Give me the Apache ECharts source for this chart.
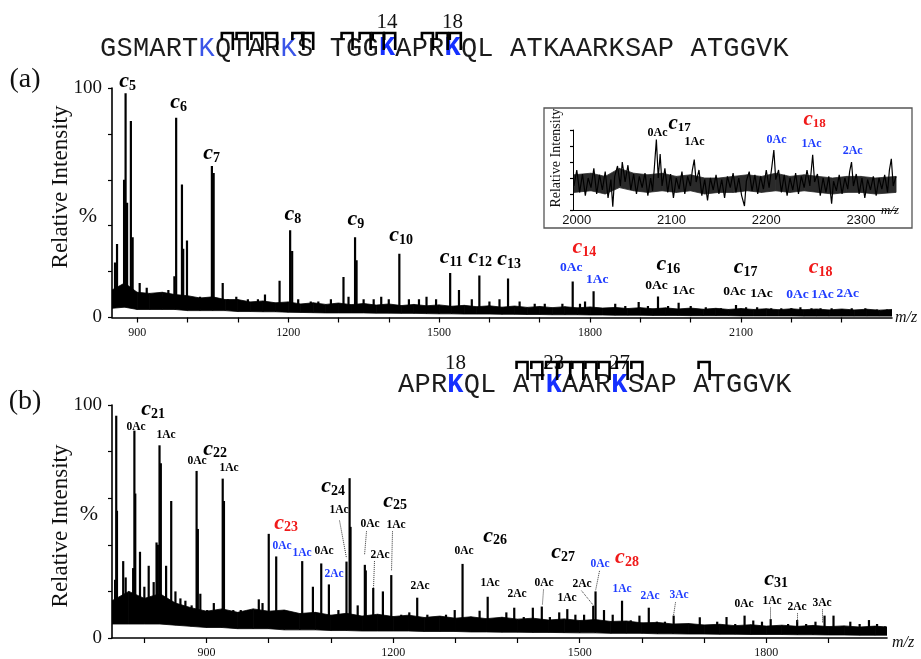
<!DOCTYPE html>
<html><head><meta charset="utf-8">
<script src="https://cdn.jsdelivr.net/npm/echarts@6/dist/echarts.min.js"></script>
<style>html,body{margin:0;padding:0;background:#fff}#c{width:921px;height:659px}</style>
</head><body><div id="c"></div>
<script>
// ---------- DATA ----------
const ticksA = [900,1000,1100,1200,1300,1400,1500,1600,1700,1800,1900,2000,2100,2200,2300];
const labelsXA = [900,1200,1500,1800,2100];
const ticksB = [800,900,1000,1100,1200,1300,1400,1500,1600,1700,1800,1900];
const labelsXB = [900,1200,1500,1800];
const labelsXInset = [2000,2100,2200,2300];
const labelsY = [0,100];

// noise band [m/z, low, high] (%)
const bandA = [[850,4,12],[875,4.5,15],[900,3.5,11],[925,3.5,10.5],[950,3.5,11],[975,3.5,10],[1000,3,9.5],[1025,3,8.5],[1050,3,9],[1075,3,7.8],[1100,2.6,7.8],[1125,2.6,6.8],[1150,2.5,7.2],[1175,2.5,6.4],[1200,2.3,6.8],[1225,2.2,5.9],[1250,2.1,6.4],[1275,2,5.7],[1300,2,6.3],[1325,2,5.6],[1350,2,6.1],[1375,1.9,5.4],[1400,1.9,5.9],[1425,1.8,5.2],[1450,1.8,5.7],[1475,1.7,5.1],[1500,1.6,5.5],[1525,1.6,4.9],[1550,1.5,5.3],[1575,1.5,4.7],[1600,1.5,5.1],[1625,1.4,4.5],[1650,1.4,5],[1675,1.3,4.4],[1700,1.3,4.8],[1725,1.2,4.3],[1750,1.2,4.7],[1775,1.2,4.2],[1800,1.1,4.6],[1825,1.1,4.1],[1850,1,4.4],[1875,1,3.9],[1900,1,4.3],[1925,0.9,3.8],[1950,0.9,4.2],[1975,0.9,3.7],[2000,0.8,4.1],[2025,0.8,3.6],[2050,0.8,4],[2075,0.8,3.5],[2100,0.7,3.9],[2125,0.7,3.5],[2150,0.7,3.8],[2175,0.7,3.4],[2200,0.7,3.8],[2225,0.6,3.4],[2250,0.6,3.7],[2275,0.6,3.3],[2300,0.6,3.7],[2325,0.6,3.3],[2350,0.6,3.6],[2375,0.6,3.2],[2400,0.6,3.5]];

const bandB = [[748,6,16],[775,6,20],[800,6,17],[825,6,19],[850,5.5,15],[875,5,13],[900,4.5,11.5],[925,4.5,12.5],[950,4,11],[975,4,12.5],[1000,4,11.5],[1025,3.5,12],[1050,3.5,10.5],[1075,3.5,11],[1100,3.2,9.8],[1125,3.2,10.6],[1150,3,9.4],[1175,3,10.2],[1200,3,9.2],[1225,3,9.8],[1250,2.8,8.8],[1275,2.8,9.4],[1300,2.8,8.5],[1325,2.6,9.1],[1350,2.6,8.3],[1375,2.5,8.9],[1400,2.5,8.1],[1425,2.4,8.5],[1450,2.4,7.7],[1475,2.3,8.2],[1500,2.2,7.5],[1525,2.2,7.9],[1550,2,7.1],[1575,2,7.3],[1600,2,6.5],[1625,1.8,6.7],[1650,1.8,6],[1675,1.7,6.2],[1700,1.7,5.6],[1725,1.6,5.9],[1750,1.6,5.3],[1775,1.5,5.7],[1800,1.5,5.1],[1825,1.5,5.5],[1850,1.4,5],[1875,1.4,5.4],[1900,1.3,4.9],[1925,1.3,5.2],[1950,1.2,4.7],[1975,1.2,5.1],[1994,1.2,4.7]];

// peaks [m/z, relative intensity %]
const peaksA = [[856,24],[860,32],[874,60],[877,97.7],[880,50],[887.5,85.6],[891,35],[905,15],[919,13],[935,10],[950,9],[962,12],[974,18],[977.5,87],[989,58],[991.5,30],[999,33.6],[1013,8],[1025,9],[1048.5,66],[1052,63],[1070,15],[1080,8],[1097,9],[1120,8],[1140,8],[1154,10],[1183,16],[1204,38],[1208,29],[1220,8],[1245,7],[1260,7],[1285,8],[1310,17.6],[1320,9],[1333,35],[1336,25],[1350,8],[1370,8],[1385,9],[1400,8],[1421,27.8],[1440,8],[1460,8],[1475,9],[1494,8],[1522,19.4],[1539.5,12],[1565,8],[1580,18.3],[1600,7],[1620,8],[1637,17],[1660,7],[1690,6],[1710,6],[1745,6],[1765.5,15.7],[1780,6],[1790,7],[1807,11.4],[1850,6],[1870,5],[1896.6,6.7],[1915,5],[1935,9.2],[1955,5],[1976,6.4],[2000,5],[2030,4.5],[2060,4],[2090,5.5],[2110,4.5],[2132,4.5],[2160,4],[2180,4],[2200,4],[2218,4.5],[2240,4],[2258,4],[2280,4],[2301,3.5],[2320,4],[2347,4],[2370,3.5],[2390,3.5]];

const peaksB = [[753,25],[754.8,95.4],[756,54.6],[766,33],[770,26],[782,30],[784,89],[785.4,62],[793,37],[800,22],[807,31],[815,24],[819.6,41],[821.7,40],[824.4,82.7],[826.5,75],[835,31],[843.2,58.8],[850,20],[858,17],[866,16],[876,14],[884,71.7],[886,46.8],[890,19],[901,12],[911.7,15],[926,68.4],[928,58.8],[943,12],[955,12],[967,12],[984,16.6],[990,15],[1000,44.7],[1012,35],[1025,12],[1040,8],[1053.8,33],[1071,22],[1084.4,32],[1096.7,23],[1112,12],[1125,32.8],[1130,68.6],[1131.5,47.7],[1143,14],[1154.5,31.4],[1156,29],[1168,21.5],[1183.5,20],[1197,27],[1213,10],[1226,11],[1238.7,17.3],[1255,10],[1270,9],[1285,10],[1299,12],[1311.6,31.8],[1325,9],[1339,11.7],[1352,17.7],[1367,8],[1382,11],[1394.7,13],[1410,9],[1424.6,13],[1439,13.5],[1452,9],[1467,11],[1480,12.4],[1493,10],[1507,10],[1521.7,13.8],[1525.4,20],[1539,12],[1553,10],[1568,16],[1582,7.6],[1596,9.6],[1611,13],[1624,7],[1637,7],[1651,9.6],[1664,6],[1678,6],[1693,8.9],[1707,5],[1721,7],[1736,9],[1750,6],[1765,9.6],[1779,7.5],[1793,7],[1807,8.1],[1822,5],[1835,6],[1849.6,7.7],[1864,6],[1879,7],[1893.6,9.6],[1908,9.6],[1922,5],[1935,7],[1950,6],[1965,7.7],[1978,6],[1991,5]];

// inset: noise band [m/z, low, high] and trace [m/z, relative intensity %]
const insetBand = [[1997,22,44],[2015,24,46],[2030,20,42],[2045,28,52],[2060,24,46],[2075,22,44],[2090,24,46],[2105,22,42],[2120,24,44],[2135,20,40],[2150,22,40],[2165,22,42],[2180,24,44],[2195,22,42],[2210,24,46],[2225,22,42],[2240,24,44],[2255,22,42],[2270,20,40],[2285,22,42],[2300,22,42],[2315,20,40],[2337,22,42]];
const insetTrace = [[1997,30],[2000,50],[2003,22],[2006,45],[2009,18],[2012,40],[2015,28],[2018,52],[2021,20],[2024,44],[2027,25],[2030,48],[2033,15],[2036,38],[2038,4],[2040,42],[2043,55],[2046,30],[2048,60],[2051,35],[2054,56],[2057,25],[2060,45],[2063,20],[2066,42],[2069,28],[2072,46],[2075,18],[2078,40],[2080,24],[2082,55],[2084,88],[2086,40],[2088,70],[2090,30],[2093,52],[2096,22],[2099,45],[2102,15],[2105,40],[2108,26],[2111,48],[2114,20],[2117,42],[2120,30],[2122,50],[2124,63],[2126,35],[2129,50],[2132,18],[2135,38],[2138,12],[2141,40],[2144,25],[2147,44],[2150,20],[2153,38],[2156,15],[2159,42],[2162,28],[2165,46],[2168,22],[2171,40],[2174,18],[2177,5],[2179,36],[2182,48],[2185,24],[2188,44],[2191,20],[2194,42],[2197,26],[2200,50],[2203,28],[2206,55],[2208,75],[2210,38],[2213,50],[2216,22],[2219,44],[2222,18],[2225,40],[2228,25],[2231,46],[2234,20],[2237,42],[2240,28],[2243,50],[2246,30],[2249,69],[2251,35],[2254,45],[2257,18],[2260,40],[2263,22],[2266,42],[2269,8],[2271,36],[2274,24],[2277,44],[2280,20],[2283,40],[2286,26],[2288,48],[2290,60],[2292,30],[2295,45],[2298,20],[2301,40],[2304,15],[2307,38],[2310,25],[2313,42],[2316,18],[2319,40],[2322,26],[2325,44],[2328,22],[2330,50],[2332,64],[2334,30],[2337,42]];

// annotations [text, m/z, level, kind]  kind: c=black ion, r=red ion, k=black Ac, b=blue Ac
const annA = [['c5',882,102.6,'c'],['c6',983.6,93.4,'c'],['c7',1049,71.2,'c'],['c8',1210.4,44.7,'c'],['c9',1335.8,42.5,'c'],['c10',1425.4,35.5,'c'],['c11',1524.9,25.9,'c'],['c12',1582.6,25.9,'c'],['c13',1640.3,25.1,'c'],['c14',1789.6,30.3,'r'],['0Ac',1763.7,21.6,'b'],['1Ac',1815.4,16.3,'b'],['c16',1956.7,22.9,'c'],['0Ac',1932.8,13.7,'k'],['1Ac',1986.5,11.5,'k'],['c17',2109.9,21.6,'c'],['0Ac',2088,11.1,'k'],['1Ac',2141.7,10.2,'k'],['c18',2259.2,21.6,'r'],['0Ac',2213.4,9.8,'b'],['1Ac',2263.1,9.8,'b'],['2Ac',2312.9,10.2,'b']];
const annInset = [['c17',2109,107.5,'c'],['0Ac',2085.8,96,'k'],['1Ac',2124.8,84,'k'],['c18',2251.5,112.5,'r'],['0Ac',2211.4,87.5,'b'],['1Ac',2248.4,82.5,'b'],['2Ac',2291.7,73.8,'b']];
const annB = [['c21',814.8,97.9,'c'],['0Ac',787.5,90.3,'k'],['1Ac',835.7,86.9,'k'],['c22',914.5,80.9,'c'],['0Ac',885.5,75.8,'k'],['1Ac',937,72.9,'k'],['c23',1028.6,49.2,'r'],['0Ac',1022.2,39.4,'b'],['1Ac',1054.3,36.4,'b'],['0Ac',1089.7,36.9,'k'],['2Ac',1105.8,27.1,'b'],['c24',1104.2,64.8,'c'],['1Ac',1113.8,54.7,'k'],['c25',1203.9,58.5,'c'],['0Ac',1163.7,48.7,'k'],['1Ac',1205.5,48.3,'k'],['2Ac',1179.7,35.2,'k'],['2Ac',1244,22,'k'],['c26',1364.6,43.6,'c'],['0Ac',1314.8,36.9,'k'],['1Ac',1356.6,23.3,'k'],['2Ac',1400,18.6,'k'],['c27',1474,36.4,'c'],['0Ac',1443.4,23.3,'k'],['1Ac',1480.4,16.9,'k'],['2Ac',1504.5,22.9,'k'],['c28',1576.8,34.3,'r'],['0Ac',1533.4,31.4,'b'],['1Ac',1568.8,20.8,'b'],['2Ac',1613.8,17.8,'b'],['3Ac',1660.5,18.2,'b'],['c31',1816.4,25,'c'],['0Ac',1765,14.4,'k'],['1Ac',1810,15.7,'k'],['2Ac',1850.2,13.1,'k'],['3Ac',1890.4,14.8,'k']];
// dotted leader lines [m/z1, level1, m/z2, level2]
const leadersB = [[1113.8,50.4,1125,34.3],[1157.2,45.8,1154,35.6],[1199,45.8,1197.4,28.8],[1170,33,1168.5,21.6],[1441.8,20.8,1440,14.4],[1502.9,20.3,1522,14],[1531.8,28.8,1525.4,20.3],[1654,15.3,1650.8,9.7],[1806.8,13.1,1806.8,8],[1850.2,10.6,1850.2,6.8],[1890.4,12.3,1890.4,6.4]];

// sequences
const seqA = 'GSMARTKQTARKS TGGKAPRKQL ATKAARKSAP ATGGVK';
const seqAColors = {6:'k',11:'k',17:'kb',21:'kb'};
const seqANums = [[17,'14'],[21,'18']];
const cutsA = [8.1,9.0,9.9,10.8,12.4,13.0,15.4,16.5,17.3,18.0,20.3,21.2,22.0];
const seqB = 'APRKQL ATKAARKSAP ATGGVK';
const seqBColors = {3:'kb',9:'kb',13:'kb'};
const seqBNums = [[3,'18'],[9,'23'],[13,'27']];
const cutsB = [7.9,8.8,9.7,10.5,11.3,12.1,12.9,14.0,14.9,19.0];

// ---------- CHART ----------
const SERIF = '"Liberation Serif","Times New Roman",serif';
const RED = '#f01a1a', BLUE = '#1f3cff';
const chart = echarts.init(document.getElementById('c'), null, {renderer:'canvas'});
const plain = v => String(v);

function xAxisDef(gi, min, max, ticks, labels, sans){
  return {gridIndex:gi, type:'value', min, max, z:20, splitLine:{show:false},
    axisLine:{show:true, onZero:false, lineStyle:{color:'#000', width: gi===1?1:1.6}},
    axisTick:{show: !!ticks, customValues: ticks || [], length:5, lineStyle:{color:'#000', width:1.2}},
    axisLabel:{customValues: labels, formatter: plain, color:'#111', fontSize: sans?13:12, fontFamily: sans?'"Liberation Sans",Arial,sans-serif':SERIF, margin: sans?4:9}};
}
function yAxisDef(gi, showLabels){
  return {gridIndex:gi, type:'value', min:0, max:100, interval:20, z:20, splitLine:{show:false},
    axisLine:{show:true, lineStyle:{color:'#000', width: gi===1?1:1.6}},
    axisTick:{show:true, length: gi===1?3:4, lineStyle:{color:'#000', width:1.2}},
    axisLabel:{show:showLabels, customValues: labelsY, formatter: plain, color:'#111', fontSize:19, fontFamily:SERIF, margin:10}};
}
// noise band: each item draws the quad between this sample and the next one
function bandSeries(band, gi, color){
  return {type:'custom', xAxisIndex:gi, yAxisIndex:gi, silent:true, z:2, clip:true,
    data: band,
    renderItem: (params, api) => {
      const i = params.dataIndex;
      if (i >= band.length - 1) return null;
      const a = band[i], b = band[i+1];
      const pts = [api.coord([a[0], a[1]]), api.coord([a[0], a[2]]), api.coord([b[0], b[2]]), api.coord([b[0], b[1]])];
      return {type:'polygon', shape:{points:pts}, style:{fill:color, stroke:color, lineWidth:0.8}};
    }};
}
// lower edge of the noise band at a given m/z (used only as the foot of each stick)
function bandFloor(band, x){
  for (let i=0;i<band.length-1;i++){
    if (x>=band[i][0] && x<=band[i+1][0]){
      const t=(x-band[i][0])/(band[i+1][0]-band[i][0]);
      return band[i][1]+t*(band[i+1][1]-band[i][1]) + 0.6;
    }
  }
  return band[band.length-1][1];
}
function stickSeries(peaks, band, gi){
  return {type:'custom', xAxisIndex:gi, yAxisIndex:gi, silent:true, z:3, clip:true,
    data: peaks,
    renderItem: (params, api) => {
      const x = api.value(0), h = api.value(1);
      const top = api.coord([x, h]), bot = api.coord([x, bandFloor(band, x)]);
      return {type:'rect', shape:{x: top[0]-1.1, y: top[1], width: 2.2, height: bot[1]-top[1]}, style:{fill:'#000'}};
    }};
}
function annSeries(ann, gi, acSize, cSize, sSize){
  const rich = {
    c:{fontFamily:SERIF, fontSize:cSize, fontStyle:'italic', fontWeight:'bold', color:'#000'},
    cr:{fontFamily:SERIF, fontSize:cSize, fontStyle:'italic', fontWeight:'bold', color:RED},
    s:{fontFamily:SERIF, fontSize:sSize, fontWeight:'bold', color:'#000', padding:[9,0,0,0]},
    sr:{fontFamily:SERIF, fontSize:sSize, fontWeight:'bold', color:RED, padding:[9,0,0,0]},
    a:{fontFamily:SERIF, fontSize:acSize, fontWeight:'bold', color:'#000'},
    ab:{fontFamily:SERIF, fontSize:acSize, fontWeight:'bold', color:BLUE}
  };
  return {type:'scatter', xAxisIndex:gi, yAxisIndex:gi, symbolSize:1, clip:false, silent:true, z:10,
    itemStyle:{color:'rgba(0,0,0,0)'},
    data: ann.map(d=>({value:[d[1], d[2]], name:d[0], kind:d[3]})),
    label:{show:true, position:[0,0], align:'center', verticalAlign:'middle', textBorderWidth:0, opacity:1, rich,
      formatter: p => {
        const t = p.data.name, k = p.data.kind;
        if (k==='c' || k==='r') return '{'+(k==='r'?'cr':'c')+'|c}{'+(k==='r'?'sr':'s')+'|'+t.slice(1)+'}';
        return '{'+(k==='b'?'ab':'a')+'|'+t+'}';
      }}};
}

const CW = 16.4;
function seqEls(seq, x0, cy, colors, nums, numY, cuts, mTop, mLeft, mRight){
  const els = [];
  for (let i=0;i<seq.length;i++){
    const ch = seq[i]; if (ch===' ') continue;
    const h = colors[i];
    els.push({type:'text', x:x0+(i+0.5)*CW, y:cy, z:50, style:{text:ch,
      font:(h==='kb'?'bold ':'')+'27px "Liberation Mono",monospace',
      fill: h ? (h==='kb'?'#1530ff':'#3a55e8') : '#1c1c1c',
      align:'center', verticalAlign:'middle', textAlign:'center', textVerticalAlign:'middle'}});
  }
  nums.forEach(n=>els.push({type:'text', x:x0+(n[0]+0.5)*CW, y:numY, z:50, style:{text:n[1], font:'21px '+SERIF, fill:'#111',
      align:'center', verticalAlign:'middle', textAlign:'center', textVerticalAlign:'middle'}}));
  cuts.forEach(c=>{ const xr = x0 + c*CW;
    els.push({type:'polyline', z:51, shape:{points:[[xr-11,mLeft],[xr-11,mTop],[xr,mTop],[xr,mRight]]},
      style:{stroke:'#000', lineWidth:2.6, fill:null}}); });
  return els;
}
function txt(x, y, text, font, rot){
  return {type:'text', x, y, rotation: rot||0, z:50, style:{text, font, fill:'#111',
    align:'center', verticalAlign:'middle', textAlign:'center', textVerticalAlign:'middle'}};
}

const graphics = [
  {type:'rect', shape:{x:544, y:108, width:368, height:120}, z:1, style:{stroke:'#555', lineWidth:1.3, fill:null}},
  txt(25, 80, '(a)', '28px '+SERIF),
  txt(25, 402, '(b)', '28px '+SERIF),
  txt(61, 187, 'Relative Intensity', '23px '+SERIF, Math.PI/2),
  txt(61, 526, 'Relative Intensity', '23px '+SERIF, Math.PI/2),
  txt(556, 158, 'Relative Intensity', '14px '+SERIF, Math.PI/2),
  txt(88, 216, '%', '22px '+SERIF),
  txt(89, 514, '%', '22px '+SERIF),
  txt(906, 318, 'm/z', 'italic 16px '+SERIF),
  txt(903, 643, 'm/z', 'italic 16px '+SERIF),
  txt(890, 211, 'm/z', 'italic 13px '+SERIF)
].concat(
  seqEls(seqA, 100, 48.5, seqAColors, seqANums, 22.5, cutsA, 33, 40, 50),
  seqEls(seqB, 398, 385, seqBColors, seqBNums, 363, cutsB, 362, 369, 380)
);

const option = {
  animation:false,
  backgroundColor:'#fff',
  grid:[
    {left:112, top:88, width:780, height:229.5},
    {left:573, top:130, width:324, height:80},
    {left:112, top:405, width:775, height:236}
  ],
  xAxis:[ xAxisDef(0, 850, 2400, ticksA, labelsXA), xAxisDef(1, 1996, 2338, null, labelsXInset, true), xAxisDef(2, 748, 1994, ticksB, labelsXB) ],
  yAxis:[ yAxisDef(0, true), yAxisDef(1, false), yAxisDef(2, true) ],
  series: [
    bandSeries(bandA, 0, '#000'),
    stickSeries(peaksA, bandA, 0),
    annSeries(annA, 0, 13.5, 22, 14),
    bandSeries(insetBand, 1, '#2a2a2a'),
    {type:'line', xAxisIndex:1, yAxisIndex:1, symbol:'none', silent:true, z:3, lineStyle:{color:'#000', width:1.2}, data: insetTrace},
    annSeries(annInset, 1, 12, 21, 13),
    bandSeries(bandB, 2, '#000'),
    stickSeries(peaksB, bandB, 2),
    annSeries(annB, 2, 11.5, 22, 14),
    {type:'lines', coordinateSystem:'cartesian2d', xAxisIndex:2, yAxisIndex:2, silent:true, z:9,
      lineStyle:{type:'dotted', width:1, color:'#333', opacity:1},
      data: leadersB.map(l=>({coords:[[l[0],l[1]],[l[2],l[3]]]}))}
  ],
  graphic: graphics
};
chart.setOption(option);
</script></body></html>
